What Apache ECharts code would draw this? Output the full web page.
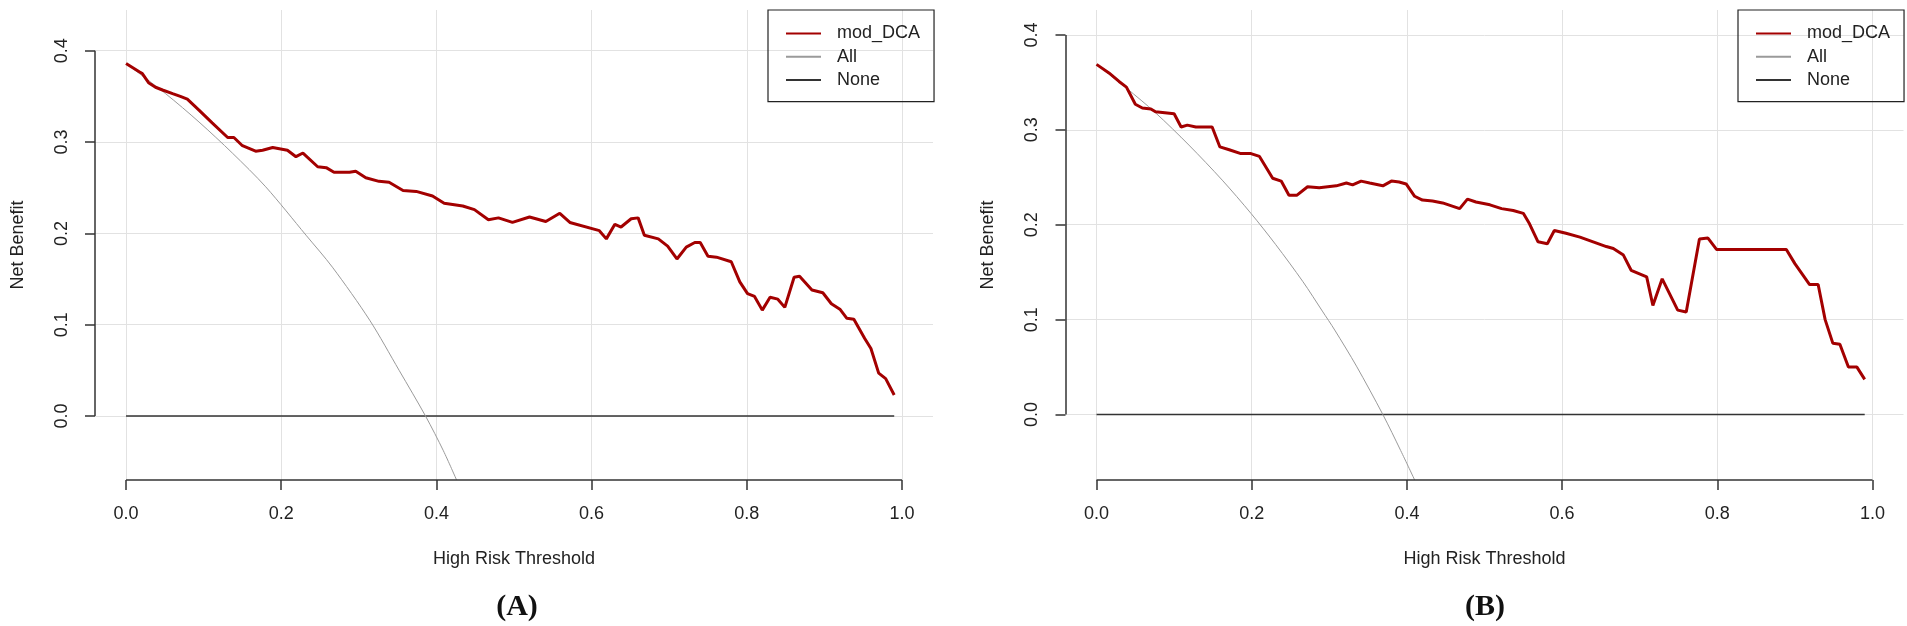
<!DOCTYPE html>
<html lang="en">
<head>
<meta charset="UTF-8">
<title>DCA</title>
<script src="https://cdn.jsdelivr.net/npm/echarts@6/dist/echarts.min.js"></script>
<style>
  html, body { margin: 0; padding: 0; background: #fff; }
  #chart { width: 1907px; height: 626px; }
</style>
</head>
<body>
<div id="chart"></div>
<script>
// ---- data ----
// panel A, model curve
var thrA = [0, 0.017, 0.021, 0.029, 0.038, 0.047, 0.06, 0.07, 0.079, 0.094, 0.111, 0.131, 0.139, 0.15, 0.167, 0.176, 0.189, 0.208, 0.219, 0.228, 0.247, 0.258, 0.268, 0.288, 0.296, 0.309, 0.326, 0.339, 0.357, 0.374, 0.395, 0.41, 0.434, 0.449, 0.467, 0.48, 0.498, 0.52, 0.541, 0.559, 0.572, 0.61, 0.619, 0.63, 0.638, 0.651, 0.66, 0.668, 0.686, 0.698, 0.71, 0.722, 0.733, 0.74, 0.75, 0.761, 0.78, 0.791, 0.801, 0.81, 0.82, 0.83, 0.84, 0.849, 0.861, 0.868, 0.884, 0.898, 0.909, 0.92, 0.929, 0.938, 0.952, 0.96, 0.97, 0.979, 0.99];
var modA = [0.386, 0.377, 0.375, 0.365, 0.36, 0.357, 0.353, 0.35, 0.347, 0.335, 0.321, 0.305, 0.305, 0.296, 0.29, 0.291, 0.294, 0.291, 0.284, 0.288, 0.273, 0.272, 0.267, 0.267, 0.268, 0.261, 0.257, 0.256, 0.247, 0.246, 0.241, 0.233, 0.23, 0.226, 0.215, 0.217, 0.212, 0.218, 0.213, 0.222, 0.212, 0.203, 0.194, 0.21, 0.207, 0.216, 0.217, 0.198, 0.194, 0.186, 0.172, 0.185, 0.19, 0.19, 0.175, 0.174, 0.169, 0.147, 0.134, 0.131, 0.116, 0.13, 0.128, 0.119, 0.152, 0.153, 0.138, 0.135, 0.123, 0.117, 0.107, 0.106, 0.085, 0.074, 0.047, 0.041, 0.023];
// panel A, treat all
var allThrA = [0, 0.051, 0.094, 0.137, 0.18, 0.232, 0.266, 0.314, 0.352, 0.386, 0.409, 0.426];
var allA = [0.386, 0.353, 0.322, 0.288, 0.251, 0.198, 0.163, 0.105, 0.05, 0, -0.038, -0.07];

// panel B, model curve
var thrB = [0, 0.016, 0.029, 0.0385, 0.05, 0.059, 0.07, 0.076, 0.1, 0.109, 0.117, 0.128, 0.149, 0.159, 0.171, 0.186, 0.199, 0.21, 0.227, 0.238, 0.248, 0.258, 0.272, 0.287, 0.309, 0.322, 0.33, 0.341, 0.352, 0.369, 0.38, 0.39, 0.399, 0.41, 0.42, 0.433, 0.446, 0.468, 0.478, 0.489, 0.507, 0.522, 0.537, 0.55, 0.558, 0.569, 0.581, 0.59, 0.605, 0.623, 0.64, 0.657, 0.666, 0.679, 0.689, 0.709, 0.717, 0.729, 0.749, 0.76, 0.777, 0.788, 0.799, 0.889, 0.9, 0.919, 0.93, 0.939, 0.949, 0.958, 0.969, 0.98, 0.99];
var modB = [0.369, 0.36, 0.351, 0.345, 0.327, 0.323, 0.322, 0.319, 0.317, 0.303, 0.305, 0.303, 0.303, 0.282, 0.279, 0.275, 0.275, 0.272, 0.249, 0.246, 0.231, 0.231, 0.24, 0.239, 0.241, 0.244, 0.242, 0.246, 0.244, 0.241, 0.246, 0.245, 0.243, 0.23, 0.226, 0.225, 0.223, 0.217, 0.227, 0.224, 0.221, 0.217, 0.215, 0.212, 0.201, 0.182, 0.18, 0.194, 0.191, 0.187, 0.182, 0.177, 0.175, 0.168, 0.152, 0.145, 0.115, 0.143, 0.11, 0.108, 0.185, 0.186, 0.174, 0.174, 0.159, 0.137, 0.137, 0.1, 0.075, 0.074, 0.05, 0.05, 0.037];
// panel B, treat all
var allThrB = [0, 0.0385, 0.076, 0.119, 0.162, 0.199, 0.231, 0.266, 0.291, 0.307, 0.335, 0.369, 0.392, 0.41];
var allB = [0.369, 0.344, 0.318, 0.284, 0.247, 0.212, 0.179, 0.14, 0.109, 0.089, 0.051, 0, -0.038, -0.069];

// treat none (both panels)
var noneThr = [0, 0.99];
var noneNB = [0, 0];

var xTicks = [0, 0.2, 0.4, 0.6, 0.8, 1.0];
var yTicks = [0, 0.1, 0.2, 0.3, 0.4];
var seriesNames = ['mod_DCA', 'All', 'None'];
var panelLabels = ['(A)', '(B)'];

// axis ranges of the two panels (R pads 4%)
var xMin = -0.04, xMax = 1.04;
var yRange = [[-0.070, 0.4446], [-0.069, 0.4263]];

function pairs(xs, ys) {
  var out = [];
  for (var i = 0; i < xs.length; i++) out.push([xs[i], ys[i]]);
  return out;
}

var FONT = 'Liberation Sans';
var gridLeft = [95, 1065.5];

function xAxisFor(i) {
  return {
    type: 'value', gridIndex: i, min: xMin, max: xMax,
    axisLine: { show: false, onZero: false },
    axisTick: { show: true, length: 10, customValues: xTicks, lineStyle: { color: '#333', width: 1.5 } },
    axisLabel: { customValues: xTicks, formatter: function (v) { return v.toFixed(1); },
                 fontSize: 18, color: '#222', fontFamily: FONT, margin: 25 },
    splitLine: { show: true, lineStyle: { color: '#e2e2e2', width: 1 } },
    name: 'High Risk Threshold', nameLocation: 'middle', nameGap: 70,
    nameTextStyle: { fontSize: 18, color: '#222', fontFamily: FONT }
  };
}
function yAxisFor(i) {
  return {
    type: 'value', gridIndex: i, min: yRange[i][0], max: yRange[i][1],
    axisLine: { show: false, onZero: false },
    axisTick: { show: true, length: 10, customValues: yTicks, lineStyle: { color: '#333', width: 1.5 } },
    axisLabel: { customValues: yTicks, formatter: function (v) { return v.toFixed(1); },
                 rotate: 90, fontSize: 18, color: '#222', fontFamily: FONT, margin: 24 },
    splitLine: { show: true, lineStyle: { color: '#e2e2e2', width: 1 } },
    name: 'Net Benefit', nameLocation: 'middle', nameRotate: 90, nameGap: 68,
    nameTextStyle: { fontSize: 18, color: '#222', fontFamily: FONT }
  };
}

// R style axis lines: only from first to last tick
function axisLines(i) {
  return {
    silent: true, symbol: ['none', 'none'], label: { show: false },
    lineStyle: { color: '#333', width: 1.5, type: 'solid' },
    emphasis: { disabled: true },
    data: [
      [{ coord: [xMin, yTicks[0]] }, { coord: [xMin, yTicks[yTicks.length - 1]] }],
      [{ coord: [xTicks[0], yRange[i][0]] }, { coord: [xTicks[xTicks.length - 1], yRange[i][0]] }]
    ]
  };
}

var panels = [
  { mod: pairs(thrA, modA), all: pairs(allThrA, allA) },
  { mod: pairs(thrB, modB), all: pairs(allThrB, allB) }
];

var series = [];
panels.forEach(function (p, i) {
  series.push({ name: seriesNames[0], type: 'line', xAxisIndex: i, yAxisIndex: i, data: p.mod,
    symbol: 'none', lineStyle: { color: '#a30000', width: 3 }, itemStyle: { color: '#a30000' },
    z: 4, emphasis: { disabled: true } });
  series.push({ name: seriesNames[1], type: 'line', xAxisIndex: i, yAxisIndex: i, data: p.all,
    symbol: 'none', smooth: 0.3, lineStyle: { color: '#9a9a9a', width: 1 },
    itemStyle: { color: '#9a9a9a' }, z: 3, emphasis: { disabled: true } });
  series.push({ name: seriesNames[2], type: 'line', xAxisIndex: i, yAxisIndex: i, data: pairs(noneThr, noneNB),
    symbol: 'none', lineStyle: { color: '#333', width: 1.5 }, itemStyle: { color: '#333' },
    z: 2, emphasis: { disabled: true }, markLine: axisLines(i) });
});

function legendFor(left) {
  return {
    left: left, top: 10, orient: 'vertical', selectedMode: false,
    data: seriesNames,
    borderColor: '#222', borderWidth: 1.2, borderRadius: 0,
    padding: [12, 14, 10, 17],
    itemWidth: 35, itemHeight: 14, itemGap: 0.3,
    itemStyle: { opacity: 0 },
    textStyle: { fontSize: 18, color: '#222', fontFamily: FONT, lineHeight: 23, padding: [0, 0, 0, 11] }
  };
}

var chart = echarts.init(document.getElementById('chart'), null, { renderer: 'canvas' });
chart.setOption({
  animation: false,
  backgroundColor: '#fff',
  grid: [
    { left: gridLeft[0], top: 10, width: 838, height: 470 },
    { left: gridLeft[1], top: 10, width: 838, height: 470 }
  ],
  xAxis: [xAxisFor(0), xAxisFor(1)],
  yAxis: [yAxisFor(0), yAxisFor(1)],
  legend: [legendFor(768), legendFor(1738)],
  graphic: [
    { type: 'text', x: 517, y: 607, style: { text: panelLabels[0], fontSize: 30, fontWeight: 'bold',
      fontFamily: 'Liberation Serif', fill: '#111', align: 'center', verticalAlign: 'middle' } },
    { type: 'text', x: 1485, y: 607, style: { text: panelLabels[1], fontSize: 30, fontWeight: 'bold',
      fontFamily: 'Liberation Serif', fill: '#111', align: 'center', verticalAlign: 'middle' } }
  ],
  series: series
});
</script>
</body>
</html>
